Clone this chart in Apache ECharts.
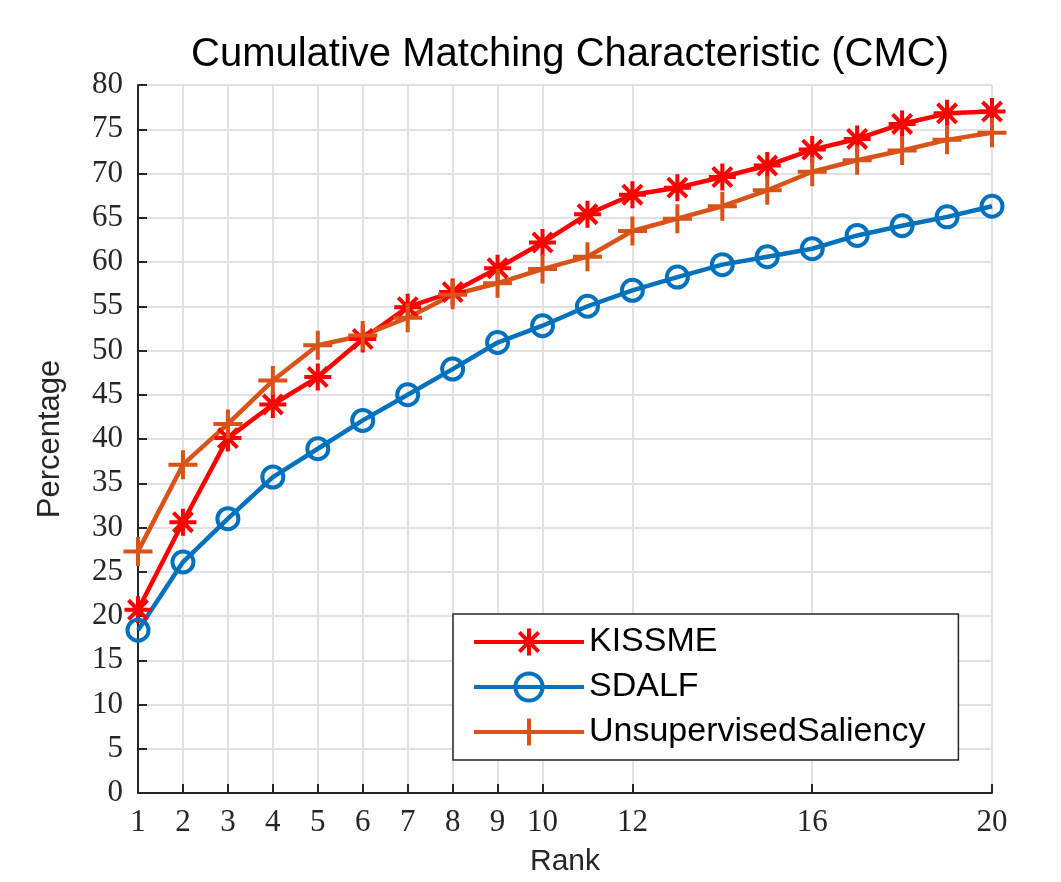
<!DOCTYPE html>
<html>
<head>
<meta charset="utf-8">
<script src="https://cdn.jsdelivr.net/npm/echarts@6/dist/echarts.min.js"></script>
<style>
html,body{margin:0;padding:0;background:#fff;}
#chart{width:1061px;height:882px;}
</style>
</head>
<body>
<div id="chart"></div>
<script>
var ranks = [1,2,3,4,5,6,7,8,9,10,11,12,13,14,15,16,17,18,19,20];
var xTickValues = [1,2,3,4,5,6,7,8,9,10,12,16,20];
var kissme = [20.7,30.6,40.1,43.9,47.0,51.3,54.9,56.6,59.3,62.2,65.4,67.6,68.4,69.6,70.9,72.7,73.9,75.6,76.8,77.0];
var sdalf = [18.4,26.1,31.0,35.7,38.9,42.1,45.0,47.9,50.9,52.8,55.0,56.8,58.3,59.7,60.6,61.5,63.0,64.1,65.1,66.3];
var unsup = [27.3,37.1,41.7,46.6,50.6,51.7,53.7,56.3,57.6,59.2,60.6,63.5,64.9,66.3,68.1,70.2,71.5,72.6,73.8,74.6];
var seriesNames = ['KISSME','SDALF','UnsupervisedSaliency'];

function pairs(vals){ return ranks.map(function(r,i){ return [r, vals[i]]; }); }

var chart = echarts.init(document.getElementById('chart'), null, {renderer:'canvas'});
var axisColor = '#262626';
var gridColor = '#e2e2e2';
var sans = 'Liberation Sans';
var serif = 'Liberation Serif';

var option = {
  backgroundColor:'#fff',
  animation:false,
  title:{
    text:'Cumulative Matching Characteristic (CMC)',
    left:565, top:30, textAlign:'center',
    textStyle:{fontFamily:sans, fontSize:40, fontWeight:'normal', color:'#000'}
  },
  grid:{left:138, right:69, top:85, bottom:87, containLabel:false},
  legend:{
    orient:'vertical',
    left:453, top:614,
    padding:[11,33,11,19],
    itemGap:11,
    itemWidth:110, itemHeight:34,
    borderColor:axisColor, borderWidth:1.5,
    backgroundColor:'#fff',
    data:seriesNames,
    lineStyle:{width:4},
    itemStyle:{borderWidth:4},
    textStyle:{fontFamily:sans, fontSize:34, color:'#000'}
  },
  xAxis:{
    type:'value', min:1, max:20,
    name:'Rank', nameLocation:'middle', nameGap:54,
    nameTextStyle:{fontFamily:sans, fontSize:30, color:axisColor},
    axisLine:{show:true, onZero:false, lineStyle:{color:axisColor, width:2}},
    axisTick:{show:true, inside:true, length:9, customValues:xTickValues, lineStyle:{color:axisColor, width:2}},
    axisLabel:{customValues:xTickValues, fontFamily:serif, fontSize:31, color:axisColor, margin:14},
    splitLine:{show:true, customValues:xTickValues, lineStyle:{color:gridColor, width:2}}
  },
  yAxis:{
    type:'value', min:0, max:80, interval:5,
    name:'Percentage', nameLocation:'middle', nameGap:72,
    nameTextStyle:{fontFamily:sans, fontSize:31, color:axisColor},
    axisLine:{show:true, onZero:false, lineStyle:{color:axisColor, width:2}},
    axisTick:{show:true, inside:true, length:9, lineStyle:{color:axisColor, width:2}},
    axisLabel:{fontFamily:serif, fontSize:31, color:axisColor, margin:15},
    splitLine:{show:true, lineStyle:{color:gridColor, width:2}}
  },
  series:[
    {
      name:seriesNames[0], type:'line', data:pairs(kissme),
      symbol:'path://M0,-10L0,10M-10,0L10,0M-7.07,-7.07L7.07,7.07M-7.07,7.07L7.07,-7.07',
      symbolSize:27,
      lineStyle:{color:'#ff0000', width:4.5},
      itemStyle:{color:'#ff0000', borderColor:'#ff0000', borderWidth:4}
    },
    {
      name:seriesNames[1], type:'line', data:pairs(sdalf),
      symbol:'circle', symbolSize:21,
      lineStyle:{color:'#0072bd', width:4.5},
      itemStyle:{color:'rgba(0,0,0,0)', borderColor:'#0072bd', borderWidth:4}
    },
    {
      name:seriesNames[2], type:'line', data:pairs(unsup),
      symbol:'path://M0,-10L0,10M-10,0L10,0',
      symbolSize:29,
      lineStyle:{color:'#d95319', width:4.5},
      itemStyle:{color:'#d95319', borderColor:'#d95319', borderWidth:4}
    }
  ]
};
chart.setOption(option);
</script>
</body>
</html>
